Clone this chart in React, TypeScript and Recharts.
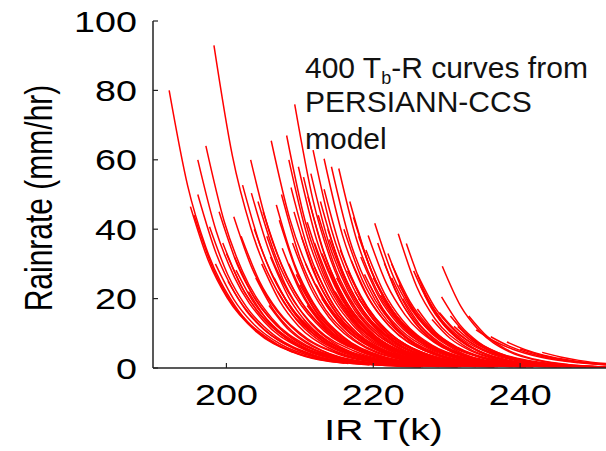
import React from "react";
import { LineChart, Line, XAxis, YAxis } from "recharts";

// Each curve: [temperatures (K), rain rates (mm/hr)]
const leftCurves: [number[], number[]][] = [
  [[192.2, 194.7, 197.2, 201.2, 206.2, 213.2], [80, 52.7, 34.8, 17.8, 7.8, 2.4]],
  [[198.3, 200.8, 203.3, 207.3, 212.3, 219.3], [93, 61.3, 40.5, 20.7, 9.0, 2.8]],
  [[196.1, 198.6, 201.1, 205.1, 210.1, 217.1], [60, 39.5, 26.1, 13.4, 5.8, 1.8]],
  [[197.2, 199.7, 202.2, 206.2, 211.2, 218.2], [64, 42.2, 27.8, 14.3, 6.2, 1.9]],
  [[195.1, 197.6, 200.1, 204.1, 209.1, 216.1], [46.5, 30.6, 20.2, 10.4, 4.5, 1.4]],
  [[196.1, 198.6, 201.1, 205.1, 210.1, 217.1], [50, 33, 21.8, 11.2, 4.9, 1.5]],
  [[195.6, 198.1, 200.6, 204.6, 209.6, 216.6], [44, 29, 19.1, 9.8, 4.3, 1.3]],
  [[197.7, 200.2, 202.7, 206.7, 211.7, 218.7], [40.7, 26.8, 17.7, 9.1, 3.9, 1.2]],
  [[203.3, 205.8, 208.3, 212.3, 217.3, 224.3], [60, 39.5, 26.1, 13.4, 5.8, 1.8]],
  [[201, 203.5, 206, 210, 215, 222], [43.6, 28.7, 19, 9.7, 4.2, 1.3]],
  [[202.2, 204.7, 207.2, 211.2, 216.2, 223.2], [52.7, 34.7, 22.9, 11.8, 5.1, 1.6]],
  [[206.1, 208.6, 211.1, 215.1, 220.1, 227.1], [65.5, 43.2, 28.5, 14.6, 6.4, 2.0]],
  [[203.4, 205.9, 208.4, 212.4, 217.4, 224.4], [50.4, 33.2, 21.9, 11.2, 4.9, 1.5]],
  [[204.3, 206.8, 209.3, 213.3, 218.3, 225.3], [48, 31.6, 20.9, 10.7, 4.7, 1.4]],
  [[201.1, 203.6, 206.1, 210.1, 215.1, 222.1], [32, 21.1, 13.9, 7.1, 3.1, 1.0]],
  [[201.3, 203.8, 206.3, 210.3, 215.3, 222.3], [28.2, 18.6, 12.3, 6.3, 2.7, 0.8]],
  [[199.5, 202, 204.5, 208.5, 213.5, 220.5], [36, 23.7, 15.7, 8.0, 3.5, 1.1]],
  [[198.5, 201, 203.5, 207.5, 212.5, 219.5], [30, 19.8, 13.1, 6.7, 2.9, 0.9]],
  [[200.2, 202.7, 205.2, 209.2, 214.2, 221.2], [25, 16.5, 10.9, 5.6, 2.4, 0.8]],
  [[199, 201.5, 204, 208, 213, 220], [45, 29.7, 19.6, 10, 4.4, 1.4]],
  [[205, 207.5, 210, 214, 219, 226], [45, 29.7, 19.6, 10, 4.4, 1.4]],
  [[202, 204.5, 207, 211, 216, 223], [38, 25, 16.5, 8.5, 3.7, 1.1]],
  [[200, 202.5, 205, 209, 214, 221], [33, 21.7, 14.4, 7.4, 3.2, 1.0]],
  [[203.8, 206.3, 208.8, 212.8, 217.8, 224.8], [40, 26.4, 17.4, 8.9, 3.9, 1.2]],
];

const middleCurves: [number[], number[]][] = [
  [[208.2, 210.7, 213.2, 217.2, 222.2, 229.2], [67, 42.5, 27, 13.1, 5.2, 1.5]],
  [[209.3, 211.8, 214.3, 218.3, 223.3, 230.3], [76, 48.3, 30.6, 14.8, 5.9, 1.7]],
  [[211.8, 214.3, 216.8, 220.8, 225.8, 232.8], [62.8, 39.9, 25.3, 12.2, 4.9, 1.4]],
  [[213.3, 215.8, 218.3, 222.3, 227.3, 234.3], [60.3, 38.3, 24.3, 11.8, 4.7, 1.3]],
  [[214.3, 216.8, 219.3, 223.3, 228.3, 235.3], [58, 36.8, 23.4, 11.3, 4.5, 1.3]],
  [[215.3, 217.8, 220.3, 224.3, 229.3, 236.3], [57.5, 36.5, 23.2, 11.2, 4.5, 1.3]],
  [[213.3, 215.8, 218.3, 222.3, 227.3, 234.3], [51.5, 32.7, 20.8, 10, 4, 1.1]],
  [[217.3, 219.8, 222.3, 226.3, 231.3, 238.3], [43.4, 27.6, 17.5, 8.5, 3.4, 1.0]],
  [[220.2, 222.7, 225.2, 229.2, 234.2, 241.2], [41.7, 26.5, 16.8, 8.1, 3.3, 0.9]],
  [[219.3, 221.8, 224.3, 228.3, 233.3, 240.3], [38.2, 24.3, 15.4, 7.4, 3.0, 0.8]],
  [[207.2, 209.7, 212.2, 216.2, 221.2, 228.2], [42.6, 27.1, 17.2, 8.3, 3.3, 0.9]],
  [[207.6, 210.1, 212.6, 216.6, 221.6, 228.6], [34.5, 21.9, 13.9, 6.7, 2.7, 0.8]],
  [[211.1, 213.6, 216.1, 220.1, 225.1, 232.1], [49.4, 31.4, 19.9, 9.6, 3.9, 1.1]],
  [[208.5, 211, 213.5, 217.5, 222.5, 229.5], [60, 38.1, 24.2, 11.7, 4.7, 1.3]],
  [[208.8, 211.3, 213.8, 217.8, 222.8, 229.8], [52, 33, 21, 10.1, 4.1, 1.1]],
  [[209.2, 211.7, 214.2, 218.2, 223.2, 230.2], [45, 28.6, 18.1, 8.8, 3.5, 1.0]],
  [[212.5, 215, 217.5, 221.5, 226.5, 233.5], [44, 27.9, 17.7, 8.6, 3.4, 1.0]],
  [[213.8, 216.3, 218.8, 222.8, 227.8, 234.8], [40, 25.4, 16.1, 7.8, 3.1, 0.9]],
  [[210.2, 212.7, 215.2, 219.2, 224.2, 231.2], [38, 24.1, 15.3, 7.4, 3.0, 0.8]],
  [[205.5, 208, 210.5, 214.5, 219.5, 226.5], [38, 24.1, 15.3, 7.4, 3.0, 0.8]],
  [[204.8, 207.3, 209.8, 213.8, 218.8, 225.8], [30, 19.1, 12.1, 5.9, 2.3, 0.7]],
  [[206.5, 209, 211.5, 215.5, 220.5, 227.5], [26, 16.5, 10.5, 5.1, 2.0, 0.6]],
  [[210.8, 213.3, 215.8, 219.8, 224.8, 231.8], [30, 19.1, 12.1, 5.9, 2.3, 0.7]],
  [[215.5, 218, 220.5, 224.5, 229.5, 236.5], [34, 21.6, 13.7, 6.6, 2.7, 0.7]],
  [[216.5, 219, 221.5, 225.5, 230.5, 237.5], [28, 17.8, 11.3, 5.5, 2.2, 0.6]],
  [[212.2, 214.7, 217.2, 221.2, 226.2, 233.2], [24, 15.2, 9.7, 4.7, 1.9, 0.5]],
  [[218.3, 220.8, 223.3, 227.3, 232.3, 239.3], [32, 20.3, 12.9, 6.2, 2.5, 0.7]],
  [[214.8, 217.3, 219.8, 223.8, 228.8, 235.8], [22, 14, 8.9, 4.3, 1.7, 0.5]],
  [[211.5, 214, 216.5, 220.5, 225.5, 232.5], [56, 35.6, 22.6, 10.9, 4.4, 1.2]],
  [[203, 205.5, 208, 212, 217, 224], [22, 14, 8.9, 4.3, 1.7, 0.5]],
  [[205.8, 208.3, 210.8, 214.8, 219.8, 226.8], [18, 11.4, 7.3, 3.5, 1.4, 0.4]],
  [[208, 210.5, 213, 217, 222, 229], [20, 12.7, 8.1, 3.9, 1.6, 0.4]],
  [[209.5, 212, 214.5, 218.5, 223.5, 230.5], [27, 17.1, 10.9, 5.3, 2.1, 0.6]],
  [[213, 215.5, 218, 222, 227, 234], [33, 21, 13.3, 6.4, 2.6, 0.7]],
  [[217.5, 220, 222.5, 226.5, 231.5, 238.5], [22, 14, 8.9, 4.3, 1.7, 0.5]],
  [[214, 216.5, 219, 223, 228, 235], [28, 17.8, 11.3, 5.5, 2.2, 0.6]],
  [[216, 218.5, 221, 225, 230, 237], [18, 11.4, 7.3, 3.5, 1.4, 0.4]],
  [[211, 213.5, 216, 220, 225, 232], [18, 11.4, 7.3, 3.5, 1.4, 0.4]],
  [[218.8, 221.3, 223.8, 227.8, 232.8, 239.8], [27, 17.1, 10.9, 5.3, 2.1, 0.6]],
  [[207.5, 210, 212.5, 216.5, 221.5, 228.5], [50, 31.8, 20.2, 9.8, 3.9, 1.1]],
  [[210.5, 213, 215.5, 219.5, 224.5, 231.5], [55, 34.9, 22.2, 10.7, 4.3, 1.2]],
  [[216.8, 219.3, 221.8, 225.8, 230.8, 237.8], [48, 30.5, 19.3, 9.4, 3.7, 1.1]],
  [[218, 220.5, 223, 227, 232, 239], [38, 24.1, 15.3, 7.4, 3.0, 0.8]],
  [[212, 214.5, 217, 221, 226, 233], [36, 22.9, 14.5, 7.0, 2.8, 0.8]],
  [[206.8, 209.3, 211.8, 215.8, 220.8, 227.8], [47, 29.8, 18.9, 9.2, 3.7, 1.0]],
  [[212.8, 215.3, 217.8, 221.8, 226.8, 233.8], [48, 30.5, 19.3, 9.4, 3.7, 1.1]],
  [[209.8, 212.3, 214.8, 218.8, 223.8, 230.8], [58, 36.8, 23.4, 11.3, 4.5, 1.3]],
];

const fillerCurves: [number[], number[]][] = [
  [[204, 206.5, 209, 213, 218, 225], [26, 16.5, 10.5, 5.1, 2.0, 0.6]],
  [[206, 208.5, 211, 215, 220, 227], [32, 20.3, 12.9, 6.2, 2.5, 0.7]],
  [[207, 209.5, 212, 216, 221, 228], [22, 14, 8.9, 4.3, 1.7, 0.5]],
  [[208.5, 211, 213.5, 217.5, 222.5, 229.5], [30, 19.1, 12.1, 5.9, 2.3, 0.7]],
  [[209, 211.5, 214, 218, 223, 230], [36, 22.9, 14.5, 7.0, 2.8, 0.8]],
  [[210, 212.5, 215, 219, 224, 231], [24, 15.2, 9.7, 4.7, 1.9, 0.5]],
  [[211, 213.5, 216, 220, 225, 232], [42, 26.7, 16.9, 8.2, 3.3, 0.9]],
  [[212, 214.5, 217, 221, 226, 233], [29, 18.4, 11.7, 5.7, 2.3, 0.6]],
  [[213, 215.5, 218, 222, 227, 234], [20, 12.7, 8.1, 3.9, 1.6, 0.4]],
  [[214, 216.5, 219, 223, 228, 235], [37, 23.5, 14.9, 7.2, 2.9, 0.8]],
  [[215, 217.5, 220, 224, 229, 236], [26, 16.5, 10.5, 5.1, 2.0, 0.6]],
  [[216, 218.5, 221, 225, 230, 237], [40, 25.4, 16.1, 7.8, 3.1, 0.9]],
  [[217, 219.5, 222, 226, 231, 238], [31, 19.7, 12.5, 6.0, 2.4, 0.7]],
  [[218, 220.5, 223, 227, 232, 239], [20, 12.7, 8.1, 3.9, 1.6, 0.4]],
  [[219, 221.5, 224, 228, 233, 240], [34, 21.6, 13.7, 6.6, 2.7, 0.7]],
  [[220, 222.5, 225, 229, 234, 241], [26, 16.5, 10.5, 5.1, 2.0, 0.6]],
  [[221, 223.5, 226, 230, 235, 242], [21, 13.3, 8.5, 4.1, 1.6, 0.5]],
  [[222.5, 225, 227.5, 231.5, 236.5, 243.5], [30, 19.1, 12.1, 5.9, 2.3, 0.7]],
  [[223.5, 226, 228.5, 232.5, 237.5, 244.5], [24, 15.2, 9.7, 4.7, 1.9, 0.5]],
  [[225, 227.5, 230, 234, 239, 246], [18, 11.4, 7.3, 3.5, 1.4, 0.4]],
  [[226, 228.5, 231, 235, 240, 247], [27, 17.1, 10.9, 5.3, 2.1, 0.6]],
  [[227, 229.5, 232, 236, 241, 248], [21, 13.3, 8.5, 4.1, 1.6, 0.5]],
  [[229, 231.5, 234, 238, 243, 250], [16, 10.2, 6.4, 3.1, 1.2, 0.4]],
  [[231, 233.5, 236, 240, 245, 252], [12, 7.6, 4.8, 2.3, 0.9, 0.3]],
  [[232.5, 235, 237.5, 241.5, 246.5, 253.5], [10, 6.4, 4.0, 2.0, 0.8, 0.2]],
  [[205.5, 208, 210.5, 214.5, 219.5, 226.5], [14, 8.9, 5.6, 2.7, 1.1, 0.3]],
  [[210.5, 213, 215.5, 219.5, 224.5, 231.5], [14, 8.9, 5.6, 2.7, 1.1, 0.3]],
  [[215.5, 218, 220.5, 224.5, 229.5, 236.5], [14, 8.9, 5.6, 2.7, 1.1, 0.3]],
  [[219.8, 222.3, 224.8, 228.8, 233.8, 240.8], [13, 8.3, 5.2, 2.5, 1.0, 0.3]],
  [[224.5, 227, 229.5, 233.5, 238.5, 245.5], [12, 7.6, 4.8, 2.3, 0.9, 0.3]],
];

const rightCurves: [number[], number[]][] = [
  [[223.4, 225.9, 228.4, 232.4, 237.4, 244.4], [38.7, 23.5, 14.2, 6.4, 2.4, 0.6]],
  [[224.5, 227, 229.5, 233.5, 238.5, 245.5], [35.9, 21.8, 13.2, 5.9, 2.2, 0.5]],
  [[229.4, 231.9, 234.4, 238.4, 243.4, 250.4], [29.3, 17.8, 10.8, 4.8, 1.8, 0.4]],
  [[229.3, 231.8, 234.3, 238.3, 243.3, 250.3], [20.5, 12.4, 7.5, 3.4, 1.3, 0.3]],
  [[221.5, 224, 226.5, 230.5, 235.5, 242.5], [30.2, 18.3, 11.1, 5.0, 1.8, 0.5]],
  [[226.5, 229, 231.5, 235.5, 240.5, 247.5], [23.4, 14.2, 8.6, 3.9, 1.4, 0.4]],
  [[220.6, 223.1, 225.6, 229.6, 234.6, 241.6], [36, 21.9, 13.2, 5.9, 2.2, 0.5]],
  [[222.5, 225, 227.5, 231.5, 236.5, 243.5], [26, 15.8, 9.6, 4.3, 1.6, 0.4]],
  [[224, 226.5, 229, 233, 238, 245], [20, 12.1, 7.4, 3.3, 1.2, 0.3]],
  [[219.5, 222, 224.5, 228.5, 233.5, 240.5], [24, 14.6, 8.8, 4.0, 1.5, 0.4]],
  [[226, 228.5, 231, 235, 240, 247], [17, 10.3, 6.3, 2.8, 1.0, 0.3]],
  [[228, 230.5, 233, 237, 242, 249], [14, 8.5, 5.2, 2.3, 0.9, 0.2]],
  [[231.5, 234, 236.5, 240.5, 245.5, 252.5], [12, 7.3, 4.4, 2.0, 0.7, 0.2]],
  [[233, 235.5, 238, 242, 247, 254], [15, 9.1, 5.5, 2.5, 0.9, 0.2]],
  [[220.8, 223.3, 225.8, 229.8, 234.8, 241.8], [18, 10.9, 6.6, 3.0, 1.1, 0.3]],
  [[222, 224.5, 227, 231, 236, 243], [33, 20, 12.1, 5.4, 2.0, 0.5]],
  [[225.5, 228, 230.5, 234.5, 239.5, 246.5], [28, 17, 10.3, 4.6, 1.7, 0.4]],
  [[227.5, 230, 232.5, 236.5, 241.5, 248.5], [19, 11.5, 7.0, 3.1, 1.2, 0.3]],
  [[230.5, 233, 235.5, 239.5, 244.5, 251.5], [15, 9.1, 5.5, 2.5, 0.9, 0.2]],
];

const tailCurves: [number[], number[]][] = [
  [[238.2, 240.7, 243.2, 247.2, 252.2, 259.2], [7.5, 5.3, 3.7, 2.1, 1.0, 0.4]],
  [[236, 238.5, 241, 245, 250, 257], [9, 6.3, 4.4, 2.5, 1.2, 0.5]],
  [[240, 242.5, 245, 249, 254, 261], [5.5, 3.9, 2.7, 1.5, 0.7, 0.3]],
  [[234, 236.5, 239, 243, 248, 255], [11, 7.7, 5.4, 3.0, 1.5, 0.6]],
  [[243, 245.5, 248, 252, 257, 264], [4.5, 3.2, 2.2, 1.2, 0.6, 0.2]],
];

const xTicks = [200, 220, 240];
const yTicks = [0, 20, 40, 60, 80, 100];
const xDomain: [number, number] = [190, 260];
const yDomain: [number, number] = [0, 100];

const allCurves = [...leftCurves, ...middleCurves, ...fillerCurves, ...rightCurves, ...tailCurves];
const series = allCurves.map((c) => c[0].map((t, i) => ({ t, r: c[1][i] })));

const FONT = "'Liberation Sans', Arial, Helvetica, sans-serif";
const AXIS = "#222";
const PLOT_LEFT = 153;
const PLOT_TOP = 21;
const PLOT_BOTTOM = 368;

const YTick = (props: any) => {
  const { y, payload } = props;
  return (
    <g>
      <line x1={PLOT_LEFT} x2={PLOT_LEFT + 5} y1={y} y2={y} stroke={AXIS} strokeWidth={1.2} />
      <text
        transform={`translate(137,${y + 10.5}) scale(1.3,1)`}
        textAnchor="end"
        fontFamily={FONT}
        fontSize={29}
        fill="#000"
      >
        {payload.value}
      </text>
    </g>
  );
};

const XTick = (props: any) => {
  const { x, payload } = props;
  return (
    <g>
      <line x1={x} x2={x} y1={PLOT_BOTTOM} y2={PLOT_BOTTOM - 5} stroke={AXIS} strokeWidth={1.2} />
      <text
        transform={`translate(${x},405) scale(1.3,1)`}
        textAnchor="middle"
        fontFamily={FONT}
        fontSize={29}
        fill="#000"
      >
        {payload.value}
      </text>
    </g>
  );
};

const TopTick = (props: any) => {
  const { x } = props;
  return <line x1={x} x2={x} y1={PLOT_TOP} y2={PLOT_TOP + 5} stroke={AXIS} strokeWidth={1.2} />;
};

export default function App() {
  return (
    <div
      style={{
        position: "fixed",
        left: 0,
        top: 0,
        width: 606,
        height: 451,
        overflow: "hidden",
        background: "#fff",
      }}
    >
      <LineChart width={678} height={451} margin={{ top: PLOT_TOP, right: 11, bottom: 0, left: 0 }}>
        <XAxis
          type="number"
          dataKey="t"
          domain={xDomain}
          allowDataOverflow
          ticks={xTicks}
          tick={<XTick />}
          tickLine={false}
          axisLine={{ stroke: AXIS, strokeWidth: 1.5 }}
          height={83}
          label={{
            content: () => (
              <text
                transform="translate(383.5,440) scale(1.3,1)"
                textAnchor="middle"
                fontFamily={FONT}
                fontSize={30}
                fill="#000"
              >
                IR T(k)
              </text>
            ),
          }}
        />
        <XAxis
          xAxisId="top"
          orientation="top"
          type="number"
          domain={xDomain}
          allowDataOverflow
          ticks={xTicks}
          tick={<TopTick />}
          tickLine={false}
          axisLine={{ stroke: AXIS, strokeWidth: 1.5 }}
          height={0}
        />
        <YAxis
          type="number"
          domain={yDomain}
          ticks={yTicks}
          tick={<YTick />}
          tickLine={false}
          axisLine={{ stroke: AXIS, strokeWidth: 1.5 }}
          width={PLOT_LEFT}
          label={{
            content: () => (
              <text
                transform="translate(52,198) scale(1.3,1) rotate(-90)"
                textAnchor="middle"
                fontFamily={FONT}
                fontSize={30}
                fill="#000"
              >
                Rainrate (mm/hr)
              </text>
            ),
          }}
        />
        {series.map((pts, i) => (
          <Line
            key={i}
            data={pts}
            dataKey="r"
            type="monotone"
            stroke="#ff0000"
            strokeWidth={1.5}
            dot={false}
            activeDot={false}
            isAnimationActive={false}
          />
        ))}
      </LineChart>
      <svg
        width={606}
        height={451}
        style={{ position: "absolute", left: 0, top: 0, pointerEvents: "none" }}
      >
        <g fontFamily={FONT} fontSize={30} fill="#111">
          <text x={305} y={78}>
            400 T<tspan fontSize={18} dy={6}>b</tspan>
            <tspan dy={-6}>-R curves from</tspan>
          </text>
          <text x={305} y={112}>PERSIANN-CCS</text>
          <text x={305} y={149}>model</text>
        </g>
      </svg>
    </div>
  );
}
